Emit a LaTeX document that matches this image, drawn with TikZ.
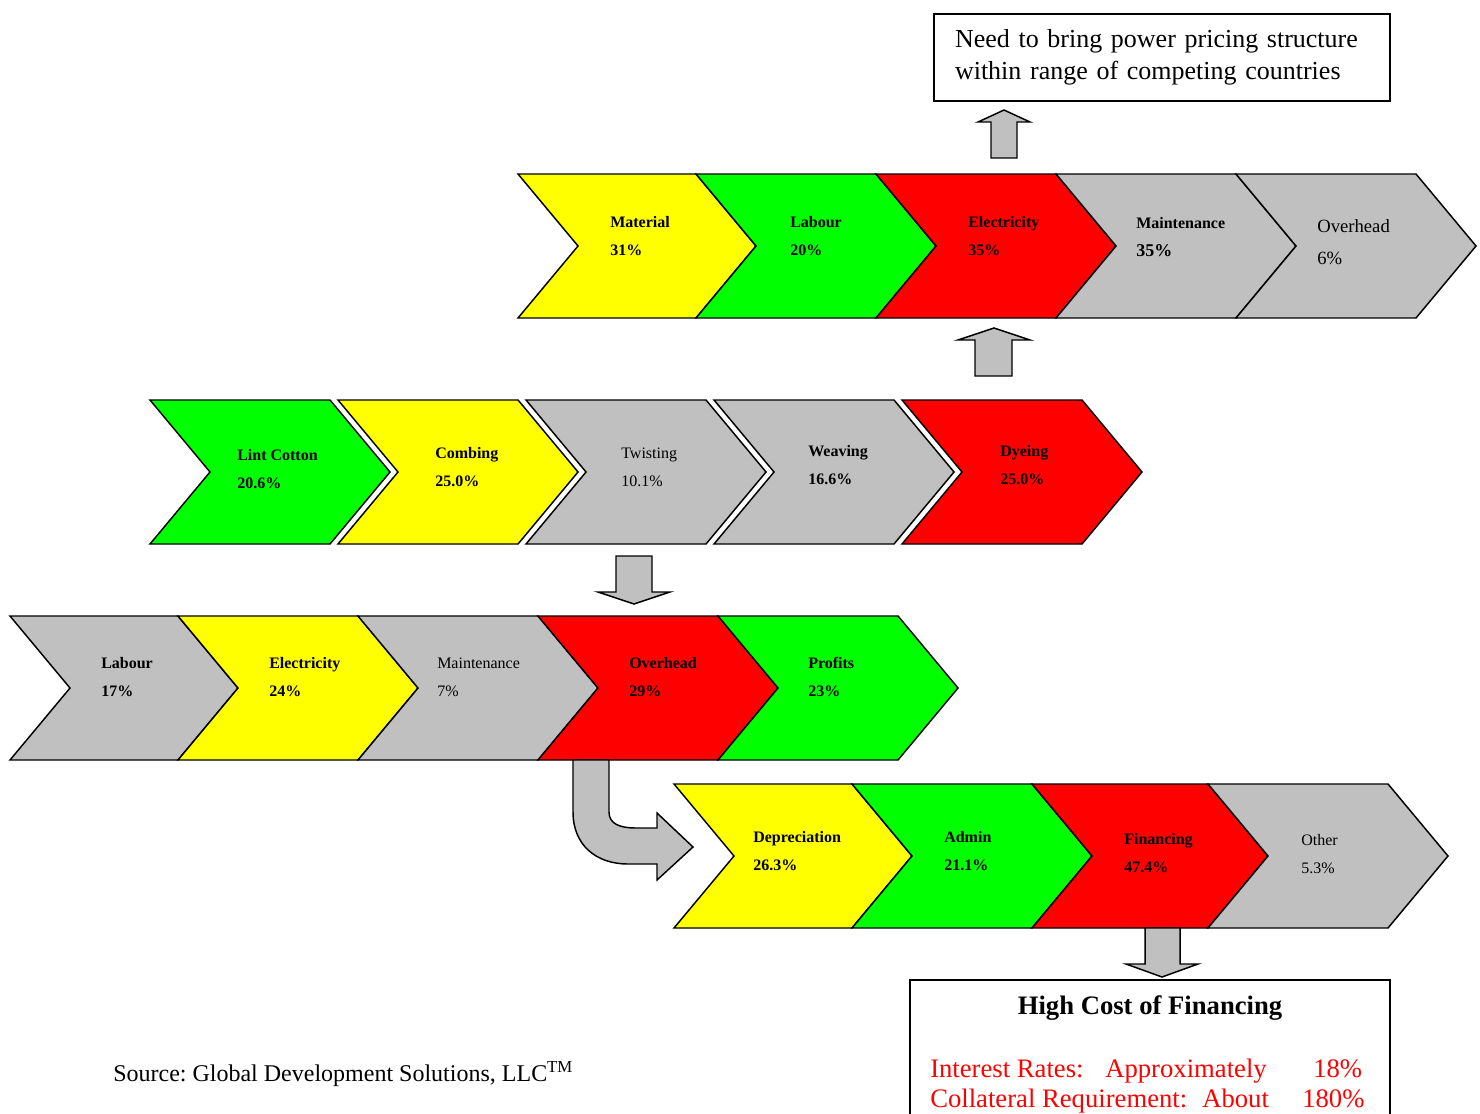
\documentclass[tikz,border=0pt]{standalone}
\usepackage{fontspec}
\setmainfont{Liberation Serif}
\usepackage{tikz}
\usetikzlibrary{positioning}
\definecolor{cyel}{RGB}{255,255,0}
\definecolor{cgrn}{RGB}{0,255,0}
\definecolor{cred}{RGB}{255,0,0}
\definecolor{cgry}{RGB}{192,192,192}
\frenchspacing

\begin{document}
\begin{tikzpicture}[
      x=0.75pt, y=-0.75pt,
      chev/.style={draw=black,line width=1.1pt,line join=miter},
      blk/.style={draw=black,line width=1.1pt,fill=cgry},
      box/.style={draw=black,line width=1.1pt},
      lab/.style={anchor=west,align=left,inner sep=0pt,font=\fontsize{12}{14}\selectfont},
      labb/.style={lab,font=\fontsize{12}{14}\selectfont\bfseries},
      big/.style={anchor=base west,inner sep=0pt,font=\fontsize{20}{24}\selectfont}
    ]
    \useasboundingbox (0,0) rectangle (1480,1113);
    \clip (0,0) rectangle (1480,1113);

    % top note
    \node[box,minimum width=342pt,minimum height=65.25pt,inner xsep=15.75pt,inner ysep=0pt,
      text width=310.5pt,align=left,font=\fontsize{19.5}{24}\selectfont] (need) at (1162,57.5)
      {Need to bring power pricing structure\\within range of competing countries};
    \draw[blk] (991,158) -- (991,122) -- (978,122) -- (1004,110) -- (1030,122) -- (1017,122) -- (1017,158) -- cycle;

    % row 1
    \draw[chev,fill=cyel] (518,174) -- ++(178,0) -- ++(60,72) -- ++(-60,72) -- ++(-178,0) -- ++(60,-72) -- cycle;
    \draw[chev,fill=cgrn] (696,174) -- ++(180,0) -- ++(60,72) -- ++(-60,72) -- ++(-180,0) -- ++(60,-72) -- cycle;
    \draw[chev,fill=cred] (876,174) -- ++(180,0) -- ++(60,72) -- ++(-60,72) -- ++(-180,0) -- ++(60,-72) -- cycle;
    \draw[chev,fill=cgry] (1056,174) -- ++(180,0) -- ++(60,72) -- ++(-60,72) -- ++(-180,0) -- ++(60,-72) -- cycle;
    \draw[chev,fill=cgry] (1236,174) -- ++(180,0) -- ++(60,72) -- ++(-60,72) -- ++(-180,0) -- ++(60,-72) -- cycle;
    \node[labb] (mat1) at (610,236) {Material\\[7pt]31\%};
    \node[labb] (lab1) at (790,236) {Labour\\[7pt]20\%};
    \node[labb] (ele1) at (968,236) {Electricity\\[7pt]35\%};
    \node[labb] (mnt1) at (1136,237) {Maintenance\\[7pt]{\fontsize{13.5}{14}\selectfont 35\%}};
    \node[lab,font=\fontsize{14}{16}\selectfont] (ovh1) at (1317,242) {Overhead\\[8pt]6\%};

    \draw[blk] (975,376) -- (975,340) -- (958,340) -- (994,328) -- (1030,340) -- (1012,340) -- (1012,376) -- cycle;

    % row 2
    \draw[chev,fill=cgrn] (150,400) -- ++(180,0) -- ++(60,72) -- ++(-60,72) -- ++(-180,0) -- ++(60,-72) -- cycle;
    \draw[chev,fill=cyel] (338,400) -- ++(180,0) -- ++(60,72) -- ++(-60,72) -- ++(-180,0) -- ++(60,-72) -- cycle;
    \draw[chev,fill=cgry] (526,400) -- ++(180,0) -- ++(60,72) -- ++(-60,72) -- ++(-180,0) -- ++(60,-72) -- cycle;
    \draw[chev,fill=cgry] (714,400) -- ++(180,0) -- ++(60,72) -- ++(-60,72) -- ++(-180,0) -- ++(60,-72) -- cycle;
    \draw[chev,fill=cred] (902,400) -- ++(180,0) -- ++(60,72) -- ++(-60,72) -- ++(-180,0) -- ++(60,-72) -- cycle;
    \node[labb] (lint) at (237,469) {Lint Cotton\\[7pt]20.6\%};
    \node[labb] (comb) at (435,467) {Combing\\[7pt]25.0\%};
    \node[lab]  (twst) at (621,467) {Twisting\\[7pt]10.1\%};
    \node[labb] (weav) at (808,465) {Weaving\\[7pt]16.6\%};
    \node[labb] (dye)  at (1000,465) {Dyeing\\[7pt]25.0\%};

    \draw[blk] (616,556) -- (652,556) -- (652,592) -- (670,592) -- (634,604) -- (598,592) -- (616,592) -- cycle;

    % row 3
    \draw[chev,fill=cgry] (10,616) -- ++(168,0) -- ++(60,72) -- ++(-60,72) -- ++(-168,0) -- ++(60,-72) -- cycle;
    \draw[chev,fill=cyel] (178,616) -- ++(180,0) -- ++(60,72) -- ++(-60,72) -- ++(-180,0) -- ++(60,-72) -- cycle;
    \draw[chev,fill=cgry] (358,616) -- ++(180,0) -- ++(60,72) -- ++(-60,72) -- ++(-180,0) -- ++(60,-72) -- cycle;
    \draw[chev,fill=cred] (538,616) -- ++(180,0) -- ++(60,72) -- ++(-60,72) -- ++(-180,0) -- ++(60,-72) -- cycle;
    \draw[chev,fill=cgrn] (718,616) -- ++(180,0) -- ++(60,72) -- ++(-60,72) -- ++(-180,0) -- ++(60,-72) -- cycle;
    \node[labb] (lab3) at (101,677) {Labour\\[7pt]17\%};
    \node[labb] (ele3) at (269,677) {Electricity\\[7pt]24\%};
    \node[lab]  (mnt3) at (437,677) {Maintenance\\[7pt]7\%};
    \node[labb] (ovh3) at (629,677) {Overhead\\[7pt]29\%};
    \node[labb] (prof) at (808,677) {Profits\\[7pt]23\%};

    % bent arrow to row 4
    \draw[blk] (573,760) -- (609,760) -- (609,812) .. controls (609,824) and (620,828) .. (636,828) -- (657,828)
      -- (657,813) -- (693,847) -- (657,880) -- (657,864) -- (628,864) .. controls (596,864) and (573,845) .. (573,812) -- cycle;

    % row 4
    \draw[chev,fill=cyel] (674,784) -- ++(178,0) -- ++(60,72) -- ++(-60,72) -- ++(-178,0) -- ++(60,-72) -- cycle;
    \draw[chev,fill=cgrn] (852,784) -- ++(180,0) -- ++(60,72) -- ++(-60,72) -- ++(-180,0) -- ++(60,-72) -- cycle;
    \draw[chev,fill=cred] (1032,784) -- ++(176,0) -- ++(60,72) -- ++(-60,72) -- ++(-176,0) -- ++(60,-72) -- cycle;
    \draw[chev,fill=cgry] (1208,784) -- ++(180,0) -- ++(60,72) -- ++(-60,72) -- ++(-180,0) -- ++(60,-72) -- cycle;
    \node[labb] (depr) at (753,851) {Depreciation\\[7pt]26.3\%};
    \node[labb] (adm)  at (944,851) {Admin\\[7pt]21.1\%};
    \node[labb] (finc) at (1124,853) {Financing\\[7pt]47.4\%};
    \node[lab]  (oth)  at (1301,854) {Other\\[7pt]5.3\%};

    \draw[blk] (1145,928) -- (1180,928) -- (1180,964) -- (1198,964) -- (1162,977) -- (1126,964) -- (1145,964) -- cycle;

    % financing box
    \draw[box] (910,980) rectangle (1390,1160);
    \node[big,anchor=center,font=\fontsize{20}{24}\selectfont\bfseries] (hcf) at (1150,1008) {High Cost of Financing};
    \node[big,text=cred] (ir)   at (930,1077) {Interest Rates:};
    \node[big,text=cred] (appr) at (1105,1077) {Approximately};
    \node[big,text=cred] (ir18) at (1313,1077) {18\%};
    \node[big,text=cred] (col)  at (930,1107) {Collateral Requirement:};
    \node[big,text=cred] (abt)  at (1202,1107) {About};
    \node[big,text=cred] (c180) at (1302,1107) {180\%};

    % source
    \node[big,font=\fontsize{18}{22}\selectfont] (src) at (113,1081) {Source: Global Development Solutions, LLC\textsuperscript{TM}};

    \end{tikzpicture}
\end{document}
